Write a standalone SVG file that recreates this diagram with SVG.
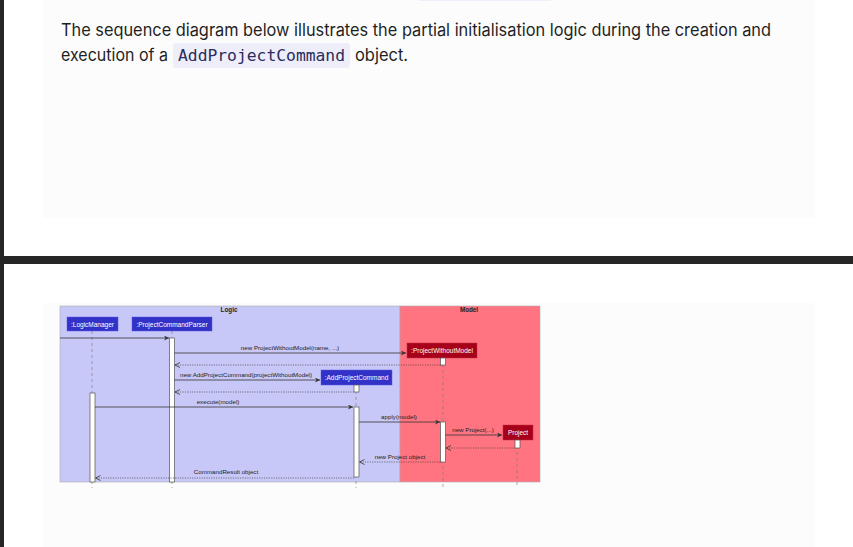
<svg xmlns="http://www.w3.org/2000/svg" width="853" height="547" viewBox="0 0 853 547">
<defs>
<style>
.lbl{font-family:"Liberation Sans",Arial,sans-serif;font-size:6.2px;fill:#222}
.pt{font-family:"Liberation Sans",Arial,sans-serif;font-size:6.5px;fill:#fff}
.ttl{font-family:"Liberation Sans",Arial,sans-serif;font-size:6.3px;font-weight:bold;fill:#222}
.msg{stroke:#333;stroke-width:0.8;fill:none}
.ret{stroke:#333;stroke-width:0.6;stroke-dasharray:1.2 1.2;fill:none}
.life{stroke:#777;stroke-width:0.6;stroke-dasharray:3 3}
.act{fill:#fff;stroke:#555;stroke-width:0.7}
.blue{fill:#3232c8;stroke:#5a5ae0;stroke-width:0.5}
.red{fill:#a6001a;stroke:#c83040;stroke-width:0.5}
</style>
<marker id="ah" markerWidth="6" markerHeight="6" refX="5" refY="2.5" orient="auto" markerUnits="userSpaceOnUse"><path d="M0,0 L5,2.5 L0,5 L1.5,2.5 Z" fill="#333"/></marker>
<marker id="oh" markerWidth="6" markerHeight="6" refX="5" refY="2.5" orient="auto" markerUnits="userSpaceOnUse"><path d="M0,0 L5,2.5 L0,5" fill="none" stroke="#333" stroke-width="0.8"/></marker>
</defs>
<rect width="853" height="547" fill="#fff"/>
<rect x="0" y="0" width="4" height="547" fill="#262626"/>
<rect x="0" y="256" width="853" height="8" fill="#262626"/>
<g id="top-panel">
<rect x="43" y="0" width="772" height="218" fill="#fcfcfc"/>
<rect x="417" y="-6" width="135" height="7" rx="3" fill="#f0f0fa"/>
<text x="61" y="36" font-family="Inter,'Noto Sans',sans-serif" font-size="17" fill="#1f1f1f" textLength="710" lengthAdjust="spacingAndGlyphs">The sequence diagram below illustrates the partial initialisation logic during the creation and</text>
<text x="61" y="61" font-family="Inter,'Noto Sans',sans-serif" font-size="17" fill="#1f1f1f" textLength="107" lengthAdjust="spacingAndGlyphs">execution of a</text>
<rect x="173" y="43" width="177" height="25" rx="3" fill="#eeeefa"/>
<text x="178" y="61" font-family="'DejaVu Sans Mono',monospace" font-size="16" fill="#2b2b5c" textLength="167" lengthAdjust="spacingAndGlyphs">AddProjectCommand</text>
<text x="355" y="61" font-family="Inter,'Noto Sans',sans-serif" font-size="17" fill="#1f1f1f" textLength="53" lengthAdjust="spacingAndGlyphs">object.</text>
</g>
<rect x="43" y="303" width="772" height="244" fill="#fcfcfc"/>
<g id="frames">
<rect x="60" y="306" width="340" height="176" fill="#c8c8f8" stroke="#aaa" stroke-width="0.6"/>
<rect x="400" y="306" width="140" height="176" fill="#ff7480" stroke="#aaa" stroke-width="0.6"/>
<text class="ttl" x="229" y="312" text-anchor="middle">Logic</text>
<text class="ttl" x="469" y="312" text-anchor="middle">Model</text>
</g>
<g id="lifelines">
<line class="life" x1="92" y1="331" x2="92" y2="488"/>
<line class="life" x1="172" y1="331" x2="172" y2="488"/>
<line class="life" x1="356" y1="385" x2="356" y2="488"/>
<line class="life" x1="443" y1="358" x2="443" y2="488"/>
<line class="life" x1="517" y1="440" x2="517" y2="488"/>
</g>
<g id="LogicManager">
<rect class="blue" x="67" y="317" width="51" height="14"/>
<text class="pt" x="92.5" y="326.5" text-anchor="middle">:LogicManager</text>
<rect class="act" x="90" y="393" width="5" height="89"/>
</g>
<g id="ProjectCommandParser">
<rect class="blue" x="132" y="317" width="80" height="14"/>
<text class="pt" x="172" y="326.5" text-anchor="middle">:ProjectCommandParser</text>
<rect class="act" x="169.5" y="338" width="5" height="144"/>
</g>
<g id="ProjectWithoutModel">
<rect class="red" x="407" y="343" width="70" height="15"/>
<text class="pt" x="442" y="353" text-anchor="middle">:ProjectWithoutModel</text>
<rect class="act" x="440.5" y="358" width="5" height="7"/>
<rect class="act" x="440.5" y="422" width="5" height="40"/>
</g>
<g id="AddProjectCommand">
<rect class="blue" x="321" y="370" width="71" height="15"/>
<text class="pt" x="356.5" y="380" text-anchor="middle">:AddProjectCommand</text>
<rect class="act" x="354" y="385" width="5" height="7"/>
<rect class="act" x="354" y="407" width="5" height="70"/>
</g>
<g id="Project">
<rect class="red" x="503" y="425" width="30" height="15"/>
<text class="pt" x="518" y="435" text-anchor="middle">Project</text>
<rect class="act" x="515" y="440" width="5" height="8"/>
</g>
<g id="connectors">
<line class="msg" x1="60" y1="338" x2="169" y2="338" marker-end="url(#ah)"/>
<line class="msg" x1="174.5" y1="353" x2="406" y2="353" marker-end="url(#ah)"/>
<text class="lbl" x="290" y="350" text-anchor="middle">new ProjectWithoutModel(name, ...)</text>
<line class="ret" x1="440.5" y1="365" x2="175" y2="365" marker-end="url(#oh)"/>
<line class="msg" x1="174.5" y1="380" x2="320" y2="380" marker-end="url(#ah)"/>
<text class="lbl" x="246" y="377" text-anchor="middle">new AddProjectCommand(projectWithoutModel)</text>
<line class="ret" x1="354" y1="392" x2="175" y2="392" marker-end="url(#oh)"/>
<line class="msg" x1="95" y1="407" x2="353" y2="407" marker-end="url(#ah)"/>
<text class="lbl" x="218" y="404" text-anchor="middle">execute(model)</text>
<line class="msg" x1="359" y1="422" x2="440" y2="422" marker-end="url(#ah)"/>
<text class="lbl" x="399" y="419" text-anchor="middle">apply(model)</text>
<line class="msg" x1="445.5" y1="435" x2="502" y2="435" marker-end="url(#ah)"/>
<text class="lbl" x="473" y="432" text-anchor="middle">new Project(...)</text>
<line class="ret" x1="515" y1="448" x2="446" y2="448" marker-end="url(#oh)"/>
<line class="ret" x1="440.5" y1="462" x2="359.5" y2="462" marker-end="url(#oh)"/>
<text class="lbl" x="400" y="459" text-anchor="middle">new Project object</text>
<line class="ret" x1="354" y1="478" x2="95.5" y2="478" marker-end="url(#oh)"/>
<text class="lbl" x="226" y="474" text-anchor="middle">CommandResult object</text>
</g>
</svg>
